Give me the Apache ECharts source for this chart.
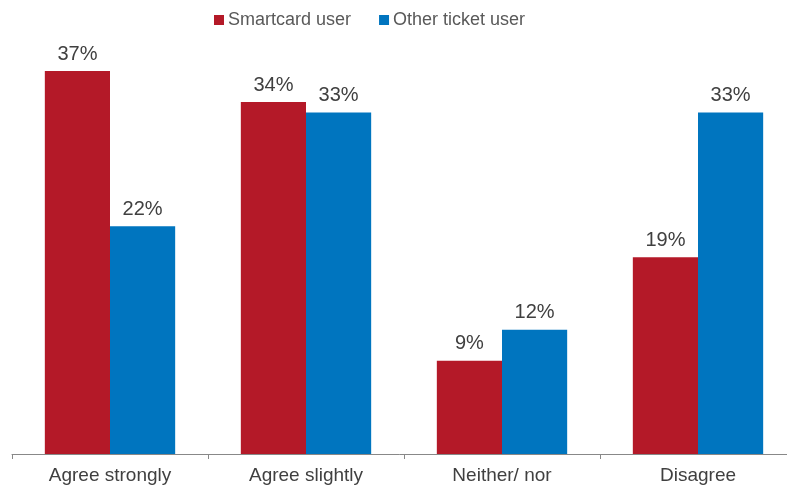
<!DOCTYPE html>
<html lang="en">
<head>
    <meta charset="UTF-8">
    <title>Smartcard vs other ticket users</title>
    <script src="https://cdn.jsdelivr.net/npm/echarts@6/dist/echarts.min.js"></script>
    <style>
        html, body { margin: 0; padding: 0; background: #fff; overflow: hidden; }
        #chart { width: 787px; height: 485px; }
    </style>
</head>
<body>
    <div id="chart"></div>
    <script>
        var categories = ['Agree strongly', 'Agree slightly', 'Neither/ nor', 'Disagree'];
        var smartcard = [37, 34, 9, 19];
        var otherTicket = [22, 33, 12, 33];

        var chart = echarts.init(document.getElementById('chart'));

        var labelStyle = {
            show: true,
            position: 'top',
            distance: 7,
            formatter: '{c}%',
            fontFamily: 'Liberation Sans, Arial, sans-serif',
            fontSize: 20,
            color: '#404040'
        };

        var option = {
            animation: false,
            legend: {
                top: 6,
                left: 209,
                icon: 'rect',
                itemWidth: 10,
                itemHeight: 10,
                itemGap: 28,
                textStyle: {
                    fontFamily: 'Liberation Sans, Arial, sans-serif',
                    fontSize: 18,
                    color: '#595959',
                    padding: [0, 0, 0, -1]
                }
            },
            grid: {
                left: 12,
                right: -9,
                top: 40,
                bottom: 31,
                containLabel: false,
                outerBoundsMode: 'none'
            },
            xAxis: {
                type: 'category',
                data: categories,
                axisLine: { lineStyle: { color: '#888888', width: 1 } },
                axisTick: { show: true, length: 5, lineStyle: { color: '#888888' } },
                axisLabel: {
                    margin: 12,
                    fontFamily: 'Liberation Sans, Arial, sans-serif',
                    fontSize: 19,
                    color: '#404040'
                }
            },
            yAxis: {
                type: 'value',
                min: 0,
                max: 40,
                show: false,
                splitLine: { show: false }
            },
            series: [
                {
                    name: 'Smartcard user',
                    type: 'bar',
                    data: smartcard,
                    barGap: '0%',
                    barCategoryGap: '33.5%',
                    itemStyle: { color: '#B41928' },
                    label: labelStyle
                },
                {
                    name: 'Other ticket user',
                    type: 'bar',
                    data: otherTicket,
                    barGap: '0%',
                    barCategoryGap: '33.5%',
                    itemStyle: { color: '#0075BF' },
                    label: labelStyle
                }
            ]
        };

        chart.setOption(option);
    </script>
</body>
</html>
